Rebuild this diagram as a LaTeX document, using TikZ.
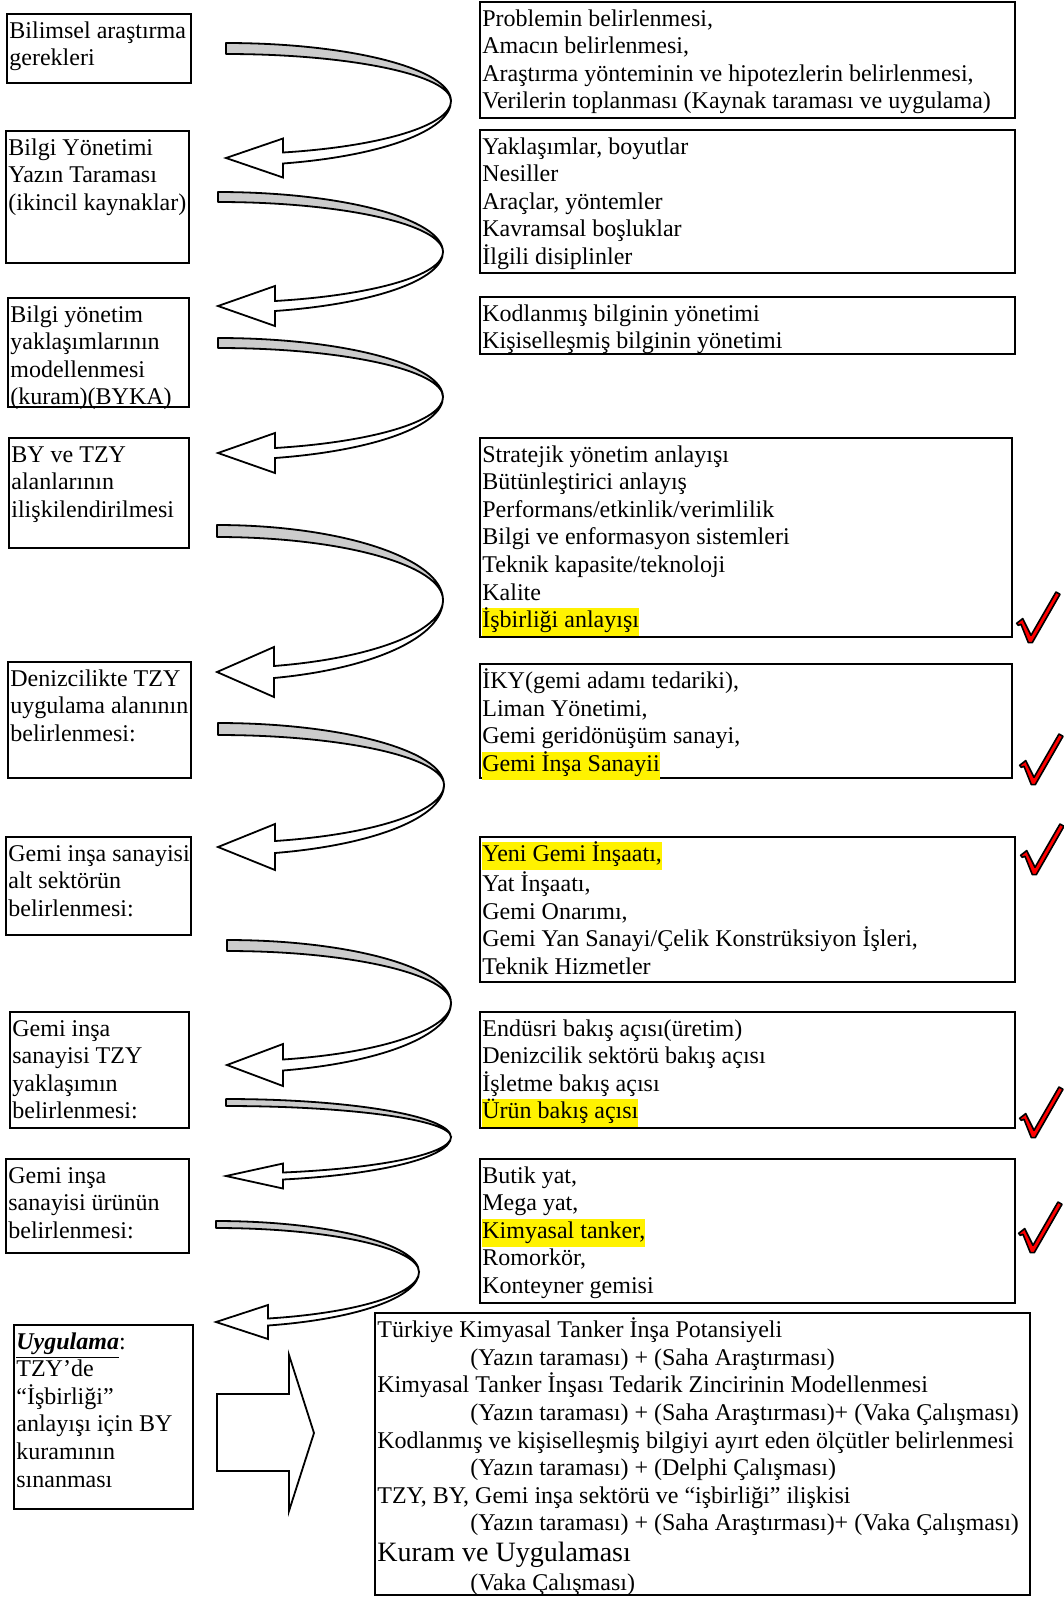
\documentclass[tikz,border=0pt]{standalone}
\usepackage{fontspec}
\setmainfont{Liberation Serif}
\begin{document}
% one unit = one pixel of the sheet (0.5pt), y grows downwards
\tikzset{
  frame/.style={draw=black, line width=0.9pt},
  txt/.style={anchor=north west, inner xsep=1pt, inner ysep=2.2pt, align=left,
              font=\fontsize{12}{13.8}\selectfont},
  ribbonback/.style={draw=black, fill=black!20, line width=0.9pt, line join=round},
  ribbonfront/.style={draw=black, fill=white, line width=0.9pt, line join=miter},
  checkmark/.style={draw=black, fill=red, line width=0.8pt, line join=round},
  blockarrow/.style={draw=black, fill=white, line width=0.9pt},
}
% yellow marker behind a line of text
\newcommand\hlt[1]{{\setlength{\fboxsep}{0pt}\colorbox{yellow}{\strut #1}}}
% box with its text: name, x1, y1, x2, y2, text
\newcommand\textbox[6]{%
  \draw[frame] (#2,#3) rectangle (#4,#5);
  \node[txt] (#1) at (#2,#3) {\strut #6};
}
% curved ribbon arrow: x of tail/tip, rightmost x, tail top y, band width,
% y of the turn, tip y, x of the head base, half height of the head
\newcommand\curvarrow[8]{%
  \pgfmathsetmacro\crvA{#2-#1}%
  \pgfmathsetmacro\crvBT{#5-#3}%
  \pgfmathsetmacro\crvBG{#5-#3-#4}%
  \pgfmathsetmacro\crvTh{acos((#7-#1)/\crvA)}%
  \pgfmathsetmacro\crvBO{(#6+#4/2-#5)/sin(\crvTh)}%
  \pgfmathsetmacro\crvBI{(#6-#4/2-#5)/sin(\crvTh)}%
  \filldraw[ribbonback] (#1,#3)
     arc[start angle=-90, end angle=0, x radius=\crvA, y radius=\crvBT]
     arc[start angle=0, end angle=-90, x radius=\crvA, y radius=\crvBG] -- cycle;
  \filldraw[ribbonfront] (#2,#5)
     arc[start angle=0, end angle=\crvTh, x radius=\crvA, y radius=\crvBO]
     -- (#7,#6+#8) -- (#1,#6) -- (#7,#6-#8) -- (#7,#6-#4/2)
     arc[start angle=\crvTh, end angle=0, x radius=\crvA, y radius=\crvBI] -- cycle;
}
% red tick, placed by its lowest point
\newcommand\redtick[2]{%
  \filldraw[checkmark, shift={(#1,#2)}]
    (-13.3,-18.7) -- (-7.3,-23.4) -- (1,-6.7) -- (26,-50) -- (30,-47.7)
    -- (2.3,0.6) -- (-1.7,0.6) -- (-9,-17.7) -- (-11.7,-16.7) -- cycle;
}
\begin{tikzpicture}[x=0.5pt,y=-0.5pt]
\fill[white] (0,0) rectangle (1064,1597);
\useasboundingbox (0,0) rectangle (1064,1597);

% left column
\textbox{l1}{7}{14}{191}{83}{Bilimsel araştırma\\gerekleri}
\textbox{l2}{6}{131}{189}{263}{Bilgi Yönetimi\\Yazın Taraması\\(ikincil kaynaklar)}
\textbox{l3}{8}{298}{189}{407}{Bilgi yönetim\\yaklaşımlarının\\modellenmesi\\(kuram)(BYKA)}
\textbox{l4}{9}{438}{189}{548}{BY ve TZY\\alanlarının\\ilişkilendirilmesi}
\textbox{l5}{8}{662}{191}{778}{Denizcilikte TZY\\uygulama alanının\\belirlenmesi:}
\textbox{l6}{6}{837}{191}{935}{Gemi inşa sanayisi\\alt sektörün\\belirlenmesi:}
\textbox{l7}{10}{1012}{189}{1128}{Gemi inşa\\sanayisi TZY\\yaklaşımın\\belirlenmesi:}
\textbox{l8}{6}{1159}{189}{1253}{Gemi inşa\\sanayisi ürünün\\belirlenmesi:}
\textbox{l9}{14}{1325}{193}{1509}{\underline{\textbf{\textit{Uygulama}}}:\\TZY’de\\“İşbirliği”\\anlayışı için BY\\kuramının\\sınanması}

% right column
\textbox{r1}{480}{2}{1015}{118}{Problemin belirlenmesi,\\Amacın belirlenmesi,\\Araştırma yönteminin ve hipotezlerin belirlenmesi,\\Verilerin toplanması (Kaynak taraması ve uygulama)}
\textbox{r2}{480}{130}{1015}{273}{Yaklaşımlar, boyutlar\\Nesiller\\Araçlar, yöntemler\\Kavramsal boşluklar\\İlgili disiplinler}
\textbox{r3}{480}{297}{1015}{354}{Kodlanmış bilginin yönetimi\\Kişiselleşmiş bilginin yönetimi}
\textbox{r4}{480}{438}{1012}{637}{Stratejik yönetim anlayışı\\Bütünleştirici anlayış\\Performans/etkinlik/verimlilik\\Bilgi ve enformasyon sistemleri\\Teknik kapasite/teknoloji\\Kalite\\\hlt{İşbirliği anlayışı}}
\textbox{r5}{480}{664}{1012}{778}{İKY(gemi adamı tedariki),\\Liman Yönetimi,\\Gemi geridönüşüm sanayi,\\\hlt{Gemi İnşa Sanayii}}
\textbox{r6}{480}{837}{1015}{982}{\hlt{Yeni Gemi İnşaatı,}\\Yat İnşaatı,\\Gemi Onarımı,\\Gemi Yan Sanayi/Çelik Konstrüksiyon İşleri,\\Teknik Hizmetler}
\textbox{r7}{480}{1012}{1015}{1128}{Endüsri bakış açısı(üretim)\\Denizcilik sektörü bakış açısı\\İşletme bakış açısı\\\hlt{Ürün bakış açısı}}
\textbox{r8}{480}{1159}{1015}{1303}{Butik yat,\\Mega yat,\\\hlt{Kimyasal tanker,}\\Romorkör,\\Konteyner gemisi}

% curved arrows leading down the left column
\curvarrow{226}{451}{43}{11}{101}{158}{283}{19.5}
\curvarrow{218}{443}{192}{10}{252}{306}{275}{20}
\curvarrow{218}{443}{338}{10}{397}{453}{275}{20}
\curvarrow{217}{443}{525}{12}{600}{672}{274}{25}
\curvarrow{218}{444}{723}{12}{785}{847}{275}{23}
\curvarrow{227}{451}{940}{11}{1003}{1065}{283}{21}
\curvarrow{226}{451}{1099}{7}{1137}{1176}{283}{12.5}
\curvarrow{216}{419}{1221}{7}{1272}{1322}{268}{17}

% bottom box with the methods
\textbox{r9}{375}{1313}{1030}{1595}{Türkiye Kimyasal Tanker İnşa Potansiyeli\\
\hspace*{46.5pt}(Yazın taraması) + (Saha Araştırması)\\
Kimyasal Tanker İnşası Tedarik Zincirinin Modellenmesi\\
\hspace*{46.5pt}(Yazın taraması) + (Saha Araştırması)+ (Vaka Çalışması)\\
Kodlanmış ve kişiselleşmiş bilgiyi ayırt eden ölçütler belirlenmesi\\
\hspace*{46.5pt}(Yazın taraması) + (Delphi Çalışması)\\
TZY, BY, Gemi inşa sektörü ve “işbirliği” ilişkisi\\
\hspace*{46.5pt}(Yazın taraması) + (Saha Araştırması)+ (Vaka Çalışması)\\[1.4pt]
{\fontsize{14}{16}\selectfont Kuram ve Uygulaması}\\[1pt]
\hspace*{46.5pt}(Vaka Çalışması)}

% block arrow into the bottom box
\filldraw[blockarrow] (217,1394) -- (289,1394) -- (289,1355) -- (314,1433)
  -- (289,1511) -- (289,1471) -- (217,1471) -- cycle;

% red ticks beside the chosen items
\redtick{1030}{642}
\redtick{1033}{784}
\redtick{1034}{874}
\redtick{1033}{1137}
\redtick{1032}{1252}
\end{tikzpicture}
\end{document}
